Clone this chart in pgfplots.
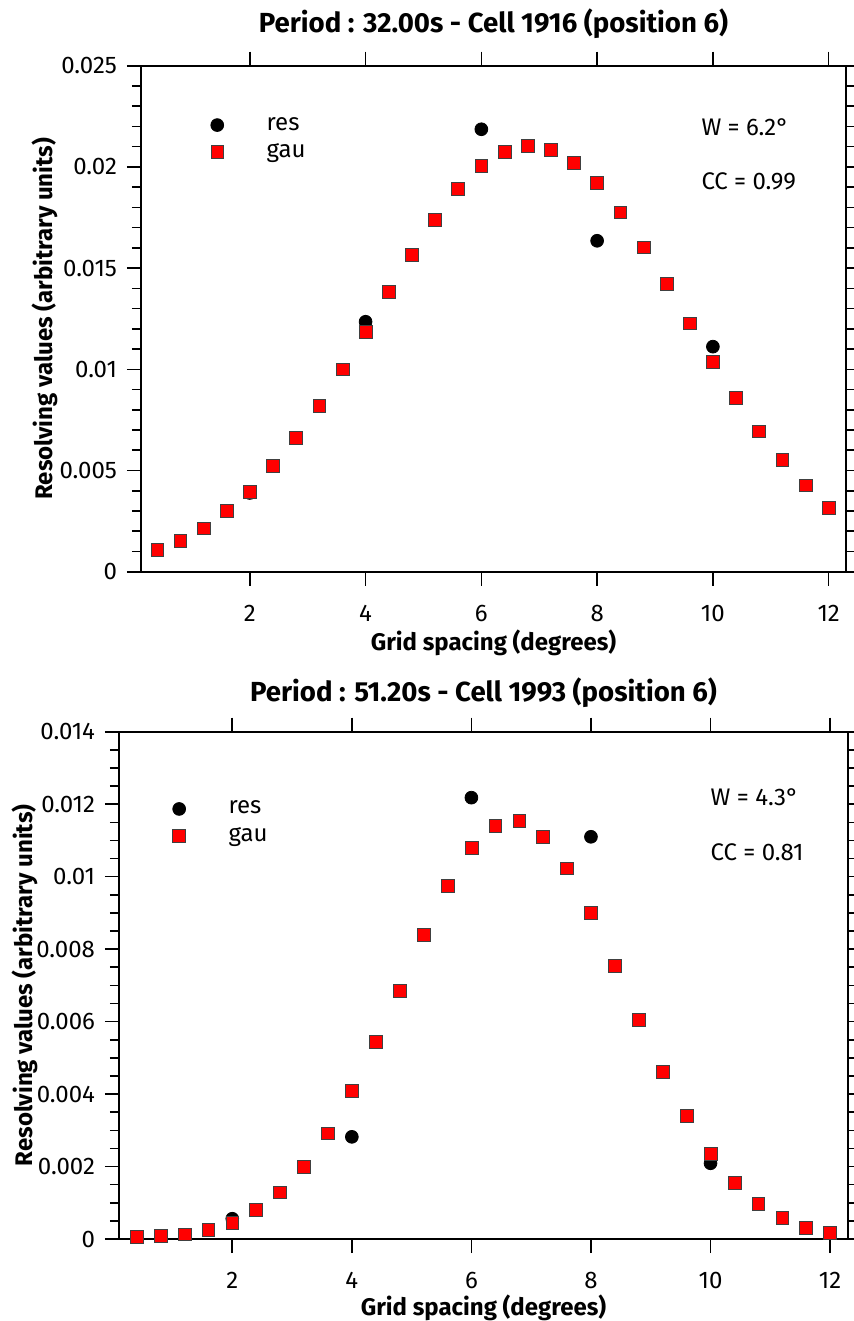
\documentclass[border=0pt]{standalone}
\usepackage{pgfplots}
\pgfplotsset{compat=1.18}
\usepackage{fontspec}
\setmainfont{Fira Sans}

\definecolor{gaured}{RGB}{255,0,0}

\pgfplotsset{
  every axis title shift=0pt,
  panel/.style={
    scale only axis,
    axis line style={line width=0.9pt},
    every tick/.style={black, line width=0.8pt},
    tick align=outside,
    major tick length=7pt,
    minor tick length=4.5pt,
    xmin=0.12, xmax=12.3,
    xtick={2,4,...,12},
    ymin=0,
    scaled y ticks=false,
    /pgf/number format/assume math mode=true,
    yticklabel style={/pgf/number format/fixed, /pgf/number format/precision=3, xshift=-1.5pt},
    xticklabel style={yshift=-6pt},
    tick label style={font=\fontsize{12}{14}\selectfont},
    label style={font=\bfseries\fontsize{12}{14}\selectfont},
    xlabel={Grid spacing (degrees)},
    ylabel={Resolving values (arbitrary units)},
    legend cell align=left,
    legend image code/.code={\draw[#1] plot coordinates {(0pt,0pt)};},
    legend style={draw=none, fill=none, font=\fontsize{12}{14}\selectfont,
      row sep=1.2pt, /tikz/every odd column/.append style={column sep=19.5pt}},
  },
  resmark/.style={only marks, mark=*, mark size=3.2pt, mark options={fill=black, draw=black}},
  gaumark/.style={only marks, mark=square*, mark size=3.2pt,
    mark options={fill=gaured, draw=black!75, line width=0.3pt}},
}

\begin{document}
\begin{tikzpicture}
\useasboundingbox (0,0) rectangle (427pt,-660.5pt);

% top panel
\begin{axis}[panel,
  at={(70.5pt,-285.85pt)}, anchor=south west,
  width=352.5pt, height=253pt,
  ymax=0.025,
  ytick={0,0.005,0.01,0.015,0.02,0.025},
  minor y tick num=4,
  title={Period : 32.00s - Cell 1916 (position 6)},
  title style={at={(axis description cs:0.5,1.082)}, anchor=center,
    font=\bfseries\fontsize{13.8}{16}\selectfont},
  xlabel style={at={(axis description cs:0.5,-0.14)}, anchor=center},
  ylabel style={at={(axis description cs:-0.136,0.5)}, anchor=center},
  legend style={at={(axis description cs:0.09,0.915)}, anchor=north west},
]
\addplot[resmark] coordinates {
  (2,0.00389) (4,0.01235) (6,0.02186) (8,0.01635) (10,0.01112)
};
\addlegendentry{res}
\addplot[gaumark] coordinates {
  (0.4,0.00107) (0.8,0.00153) (1.2,0.00214) (1.6,0.00301) (2.0,0.00395)
  (2.4,0.00522) (2.8,0.00662) (3.2,0.00819) (3.6,0.01000) (4.0,0.01184)
  (4.4,0.01383) (4.8,0.01565) (5.2,0.01737) (5.6,0.01890) (6.0,0.02006)
  (6.4,0.02075) (6.8,0.02105) (7.2,0.02083) (7.6,0.02020) (8.0,0.01920)
  (8.4,0.01776) (8.8,0.01603) (9.2,0.01421) (9.6,0.01227) (10.0,0.01038)
  (10.4,0.00858) (10.8,0.00694) (11.2,0.00552) (11.6,0.00427) (12.0,0.00316)
};
\addlegendentry{gau}
\node[anchor=west, font=\fontsize{12}{14}\selectfont] at (rel axis cs:0.785,0.879) {W = 6.2°};
\node[anchor=west, font=\fontsize{12}{14}\selectfont] at (rel axis cs:0.785,0.772) {CC = 0.99};
\end{axis}

% bottom panel
\begin{axis}[panel,
  at={(59.5pt,-619.5pt)}, anchor=south west,
  width=364.5pt, height=253.65pt,
  ymax=0.014,
  ytick={0,0.002,0.004,0.006,0.008,0.01,0.012,0.014},
  minor y tick num=3,
  xmin=0.105,
  title={Period : 51.20s - Cell 1993 (position 6)},
  title style={at={(axis description cs:0.5,1.076)}, anchor=center,
    font=\bfseries\fontsize{13.8}{16}\selectfont},
  xlabel style={at={(axis description cs:0.5,-0.136)}, anchor=center},
  ylabel style={at={(axis description cs:-0.129,0.5)}, anchor=center},
  legend style={at={(axis description cs:0.065,0.88)}, anchor=north west},
]
\addplot[resmark] coordinates {
  (2,0.00056) (4,0.00282) (6,0.01218) (8,0.01110) (10,0.00209)
};
\addlegendentry{res}
\addplot[gaumark] coordinates {
  (0.4,0.00006) (0.8,0.00009) (1.2,0.00013) (1.6,0.00025) (2.0,0.00045)
  (2.4,0.00080) (2.8,0.00129) (3.2,0.00200) (3.6,0.00292) (4.0,0.00409)
  (4.4,0.00544) (4.8,0.00685) (5.2,0.00840) (5.6,0.00975) (6.0,0.01080)
  (6.4,0.01140) (6.8,0.01154) (7.2,0.01110) (7.6,0.01023) (8.0,0.00900)
  (8.4,0.00755) (8.8,0.00606) (9.2,0.00462) (9.6,0.00339) (10.0,0.00235)
  (10.4,0.00155) (10.8,0.00098) (11.2,0.00059) (11.6,0.00032) (12.0,0.00018)
};
\addlegendentry{gau}
\node[anchor=west, font=\fontsize{12}{14}\selectfont] at (rel axis cs:0.802,0.871) {W = 4.3°};
\node[anchor=west, font=\fontsize{12}{14}\selectfont] at (rel axis cs:0.802,0.763) {CC = 0.81};
\end{axis}
\end{tikzpicture}
\end{document}
